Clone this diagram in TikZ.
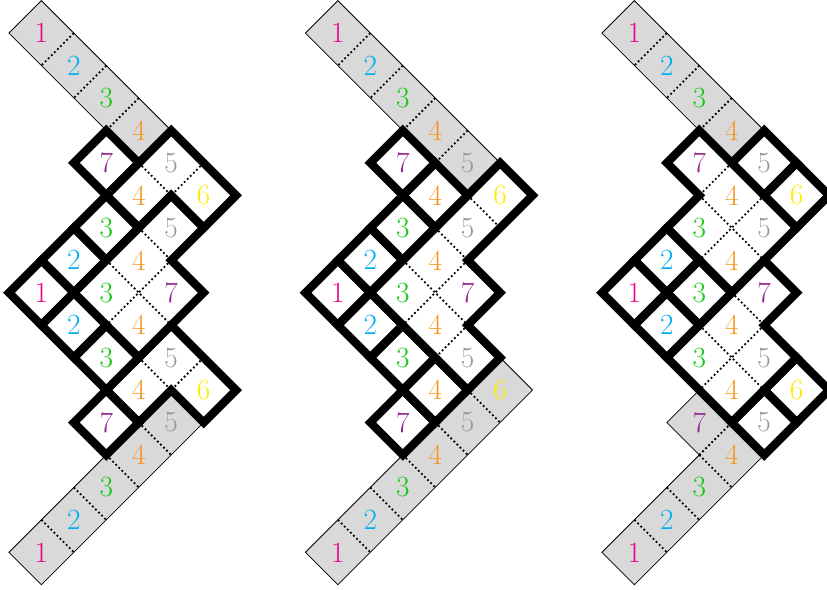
\documentclass[tikz,border=0pt]{standalone}
\usepackage{fontspec}
\definecolor{n1}{RGB}{236,0,140}
\definecolor{n2}{RGB}{0,174,239}
\definecolor{n3}{RGB}{20,200,20}
\definecolor{n4}{RGB}{247,148,29}
\definecolor{n5}{RGB}{150,150,150}
\definecolor{n6}{RGB}{255,235,0}
\definecolor{n7}{RGB}{146,39,143}
\definecolor{grayc}{RGB}{217,217,217}
\tikzset{
  thk/.style={line width=6.2pt,line join=miter},
  thn/.style={line width=0.6pt,line join=miter},
  dts/.style={line width=1.35pt,dash pattern=on 1.35pt off 1.9pt},
  num/.style={inner sep=0pt,font=\fontsize{22}{26}\selectfont},
}
\newcommand\lbl[5]{\node[num,text=#4] (#1) at (#2,#3) {#5};}
\newcommand\cellbox[2]{\draw[thk] (#1-1,#2) -- (#1,#2-1) -- (#1+1,#2) -- (#1,#2+1) -- cycle;}
\begin{document}
\begin{tikzpicture}[x=0.75pt,y=-0.75pt]
\useasboundingbox (0,0) rectangle (827,589);
\clip (0,0) rectangle (827,589);
% ---------------- panel 1 ----------------
\begin{scope}[shift={(41.4,33.1)},x=24.3375pt,y=-24.3375pt]
  \fill[grayc] (-1,0) -- (0,-1) -- (4,3) -- (3,4) -- cycle;
  \fill[grayc] (-1,16) -- (4,11) -- (5,12) -- (0,17) -- cycle;
  \draw[thn] (-1,0) -- (0,-1) -- (4,3) -- (3,4) -- cycle;
  \draw[thn] (-1,16) -- (4,11) -- (5,12) -- (0,17) -- cycle;
  \draw[dts] (1,0) -- (0,1) (2,1) -- (1,2) (3,2) -- (2,3);
  \draw[dts] (0,15) -- (1,16) (1,14) -- (2,15) (2,13) -- (3,14) (3,12) -- (4,13);
  \draw[dts] (3,4) -- (4,5) (5,4) -- (4,5) (3,6) -- (4,7) (2,7) -- (4,9) (4,7) -- (2,9)
             (3,10) -- (4,11) (5,10) -- (4,11);
  \cellbox{2}{4} \cellbox{2}{6} \cellbox{1}{7} \cellbox{0}{8} \cellbox{1}{9} \cellbox{2}{10} \cellbox{2}{12}
  \draw[thk] (2,5) -- (4,3) -- (6,5) -- (5,6) -- (4,5) -- (3,6) -- cycle;
  \draw[thk] (1,8) -- (4,5) -- (5,6) -- (4,7) -- (5,8) -- (3,10) -- cycle;
  \draw[thk] (2,11) -- (4,9) -- (6,11) -- (5,12) -- (4,11) -- (3,12) -- cycle;
  \lbl{p1a}{0}{0}{n1}{1} \lbl{p1b}{1}{1}{n2}{2} \lbl{p1c}{2}{2}{n3}{3} \lbl{p1d}{3}{3}{n4}{4}
  \lbl{p1e}{2}{4}{n7}{7} \lbl{p1f}{4}{4}{n5}{5} \lbl{p1g}{3}{5}{n4}{4} \lbl{p1h}{5}{5}{n6}{6}
  \lbl{p1i}{2}{6}{n3}{3} \lbl{p1j}{4}{6}{n5}{5} \lbl{p1k}{1}{7}{n2}{2} \lbl{p1l}{3}{7}{n4}{4}
  \lbl{p1m}{0}{8}{n1}{1} \lbl{p1n}{2}{8}{n3}{3} \lbl{p1o}{4}{8}{n7}{7} \lbl{p1p}{1}{9}{n2}{2}
  \lbl{p1q}{3}{9}{n4}{4} \lbl{p1r}{2}{10}{n3}{3} \lbl{p1s}{4}{10}{n5}{5} \lbl{p1t}{3}{11}{n4}{4}
  \lbl{p1u}{5}{11}{n6}{6} \lbl{p1v}{2}{12}{n7}{7} \lbl{p1w}{4}{12}{n5}{5} \lbl{p1x}{3}{13}{n4}{4}
  \lbl{p1y}{2}{14}{n3}{3} \lbl{p1z}{1}{15}{n2}{2} \lbl{p1zz}{0}{16}{n1}{1}
\end{scope}
% ---------------- panel 2 ----------------
\begin{scope}[shift={(337.9,33.1)},x=24.3375pt,y=-24.3375pt]
  \fill[grayc] (-1,0) -- (0,-1) -- (5,4) -- (4,5) -- cycle;
  \fill[grayc] (-1,16) -- (5,10) -- (6,11) -- (0,17) -- cycle;
  \draw[thn] (-1,0) -- (0,-1) -- (5,4) -- (4,5) -- cycle;
  \draw[thn] (-1,16) -- (5,10) -- (6,11) -- (0,17) -- cycle;
  \draw[dts] (1,0) -- (0,1) (2,1) -- (1,2) (3,2) -- (2,3) (4,3) -- (3,4);
  \draw[dts] (0,15) -- (1,16) (1,14) -- (2,15) (2,13) -- (3,14) (3,12) -- (4,13) (4,11) -- (5,12);
  \draw[dts] (4,5) -- (5,6) (3,6) -- (4,7) (2,7) -- (4,9) (4,7) -- (2,9) (4,9) -- (3,10);
  \cellbox{2}{4} \cellbox{3}{5} \cellbox{2}{6} \cellbox{1}{7} \cellbox{0}{8} \cellbox{1}{9}
  \cellbox{2}{10} \cellbox{3}{11} \cellbox{2}{12}
  \draw[thk] (1,8) -- (5,4) -- (6,5) -- (4,7) -- (5,8) -- (4,9) -- (5,10) -- (4,11) -- cycle;
  \lbl{p2a}{0}{0}{n1}{1} \lbl{p2b}{1}{1}{n2}{2} \lbl{p2c}{2}{2}{n3}{3} \lbl{p2d}{3}{3}{n4}{4}
  \lbl{p2dd}{4}{4}{n5}{5}
  \lbl{p2e}{2}{4}{n7}{7} \lbl{p2g}{3}{5}{n4}{4} \lbl{p2h}{5}{5}{n6}{6}
  \lbl{p2i}{2}{6}{n3}{3} \lbl{p2j}{4}{6}{n5}{5} \lbl{p2k}{1}{7}{n2}{2} \lbl{p2l}{3}{7}{n4}{4}
  \lbl{p2m}{0}{8}{n1}{1} \lbl{p2n}{2}{8}{n3}{3} \lbl{p2o}{4}{8}{n7}{7} \lbl{p2p}{1}{9}{n2}{2}
  \lbl{p2q}{3}{9}{n4}{4} \lbl{p2r}{2}{10}{n3}{3} \lbl{p2s}{4}{10}{n5}{5} \lbl{p2t}{3}{11}{n4}{4}
  \lbl{p2u}{5}{11}{n6}{6} \lbl{p2v}{2}{12}{n7}{7} \lbl{p2w}{4}{12}{n5}{5} \lbl{p2x}{3}{13}{n4}{4}
  \lbl{p2y}{2}{14}{n3}{3} \lbl{p2z}{1}{15}{n2}{2} \lbl{p2zz}{0}{16}{n1}{1}
\end{scope}
% ---------------- panel 3 ----------------
\begin{scope}[shift={(634.4,33.1)},x=24.3375pt,y=-24.3375pt]
  \fill[grayc] (-1,0) -- (0,-1) -- (4,3) -- (3,4) -- cycle;
  \fill[grayc] (-1,16) -- (2,13) -- (1,12) -- (2,11) -- (3,12) -- (4,13) -- (0,17) -- cycle;
  \draw[thn] (-1,0) -- (0,-1) -- (4,3) -- (3,4) -- cycle;
  \draw[thn] (-1,16) -- (2,13) -- (1,12) -- (2,11) -- (3,12) -- (4,13) -- (0,17) -- cycle;
  \draw[dts] (1,0) -- (0,1) (2,1) -- (1,2) (3,2) -- (2,3);
  \draw[dts] (0,15) -- (1,16) (1,14) -- (2,15) (2,13) -- (3,14) (2,13) -- (3,12);
  \draw[dts] (3,4) -- (2,5) (4,5) -- (2,7) (2,5) -- (4,7) (3,8) -- (4,9) (2,9) -- (4,11) (4,9) -- (2,11);
  \cellbox{4}{4} \cellbox{5}{5} \cellbox{1}{7} \cellbox{0}{8} \cellbox{2}{8} \cellbox{1}{9}
  \cellbox{5}{11} \cellbox{4}{12}
  \draw[thk] (1,4) -- (2,3) -- (5,6) -- (3,8) -- (1,6) -- (2,5) -- cycle;
  \draw[thk] (1,10) -- (4,7) -- (5,8) -- (4,9) -- (5,10) -- (3,12) -- cycle;
  \lbl{p3a}{0}{0}{n1}{1} \lbl{p3b}{1}{1}{n2}{2} \lbl{p3c}{2}{2}{n3}{3} \lbl{p3d}{3}{3}{n4}{4}
  \lbl{p3e}{2}{4}{n7}{7} \lbl{p3f}{4}{4}{n5}{5} \lbl{p3g}{3}{5}{n4}{4} \lbl{p3h}{5}{5}{n6}{6}
  \lbl{p3i}{2}{6}{n3}{3} \lbl{p3j}{4}{6}{n5}{5} \lbl{p3k}{1}{7}{n2}{2} \lbl{p3l}{3}{7}{n4}{4}
  \lbl{p3m}{0}{8}{n1}{1} \lbl{p3n}{2}{8}{n3}{3} \lbl{p3o}{4}{8}{n7}{7} \lbl{p3p}{1}{9}{n2}{2}
  \lbl{p3q}{3}{9}{n4}{4} \lbl{p3r}{2}{10}{n3}{3} \lbl{p3s}{4}{10}{n5}{5} \lbl{p3t}{3}{11}{n4}{4}
  \lbl{p3u}{5}{11}{n6}{6} \lbl{p3v}{2}{12}{n7}{7} \lbl{p3w}{4}{12}{n5}{5} \lbl{p3x}{3}{13}{n4}{4}
  \lbl{p3y}{2}{14}{n3}{3} \lbl{p3z}{1}{15}{n2}{2} \lbl{p3zz}{0}{16}{n1}{1}
\end{scope}
\end{tikzpicture}
\end{document}
